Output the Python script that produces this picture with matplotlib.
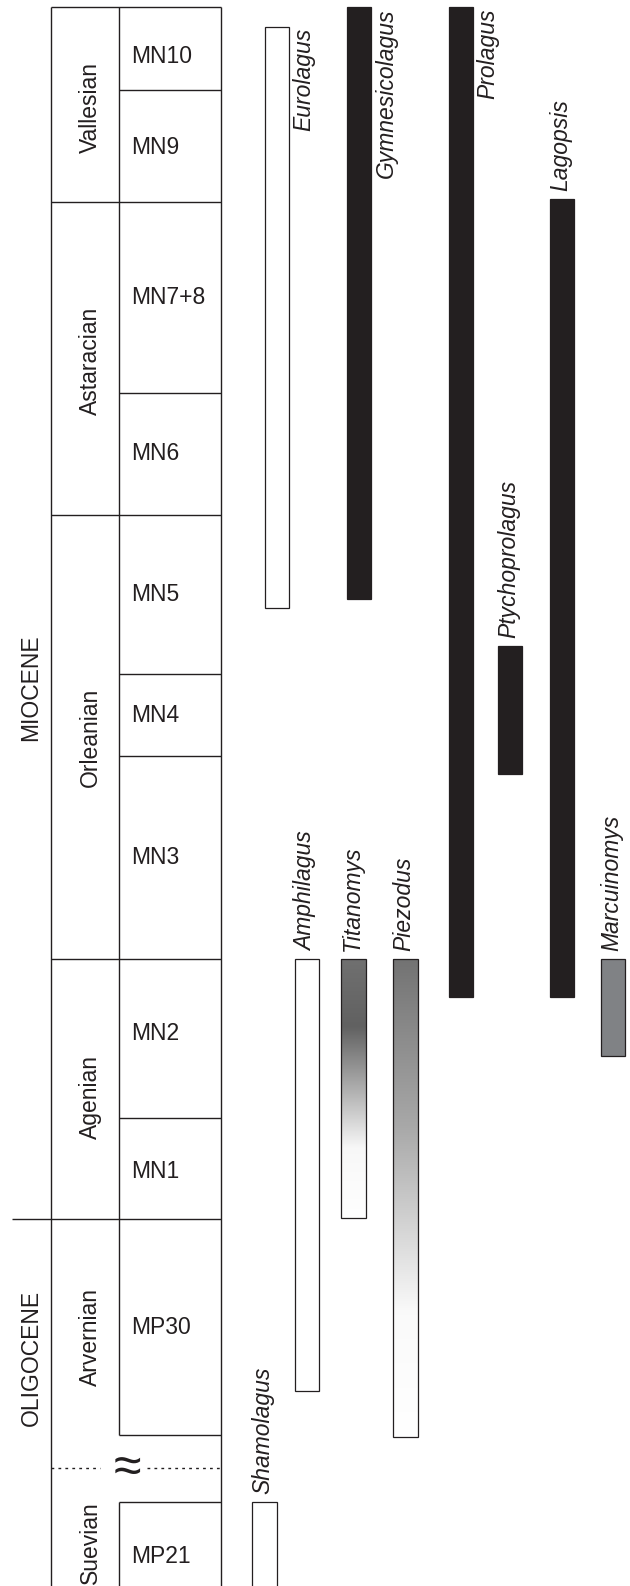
import numpy as np
import matplotlib.pyplot as plt
from matplotlib.patches import Rectangle

# vertical scale: position down the chart (0 = top, larger = older)
zones = ['MN10', 'MN9', 'MN7+8', 'MN6', 'MN5', 'MN4', 'MN3', 'MN2', 'MN1', 'MP30', 'MP21']
zone_top = [7.3, 89.5, 201.7, 392.7, 515, 674, 756, 959, 1117.7, 1219.3, 1501.7]
zone_bot = [89.5, 201.7, 392.7, 515, 674, 756, 959, 1117.7, 1219.3, 1435, 1612]

stages = ['Vallesian', 'Astaracian', 'Orleanian', 'Agenian', 'Arvernian', 'Suevian']
stage_top = [7.3, 201.7, 515, 959, 1219.3, 1467.7]
stage_bot = [201.7, 515, 959, 1219.3, 1467.7, 1612]

epochs = ['MIOCENE', 'OLIGOCENE']
epoch_boundary = 1219.3
hiatus = 1467.7

# taxon ranges (first = youngest end at top, last = oldest end)
taxa = ['Eurolagus', 'Gymnesicolagus', 'Prolagus', 'Lagopsis', 'Ptychoprolagus',
        'Amphilagus', 'Titanomys', 'Piezodus', 'Marcuinomys', 'Shamolagus']
range_top = [26.7, 7.3, 7.3, 199.3, 646, 959, 959, 959, 959, 1502]
range_bot = [608.3, 599.3, 997, 996.7, 774, 1391, 1217.7, 1436.7, 1056, 1612]
fill_kind = ['white', 'black', 'black', 'black', 'black',
             'white', 'fade1', 'fade2', 'grey', 'white']

# grey fades along the bar: (fraction of length, grey level)
fade1 = [(0.0, 0.44), (0.26, 0.38), (0.73, 0.97), (1.0, 1.0)]
fade2 = [(0.0, 0.45), (0.35, 0.66), (0.57, 0.84), (0.74, 0.98), (1.0, 1.0)]

# ---- layout (pixels of a 630 x 1586 canvas) ----
col_x = [276.9, 359.2, 460.8, 561.8, 510.2, 307, 353.5, 405.3, 612.9, 264.5]
label_side = ['right', 'right', 'right', 'top', 'top', 'top', 'top', 'top', 'top', 'top']
bar_w = 24.5
x_left, x_mid, x_right = 50.7, 119, 221
epoch_y = [688, 1358]
stage_nudge = {'Vallesian': 3, 'Astaracian': 3, 'Agenian': 8, 'Arvernian': -7, 'Suevian': 3}
zone_nudge = {'MN10': 8, 'MN9': 2, 'MN2': -5, 'MN1': 3}

ink = '#231f20'
fam = ['Liberation Sans', 'DejaVu Sans']
fs = 16.5
lw = 1.0

fig = plt.figure(figsize=(6.3, 15.86), dpi=100)
ax = fig.add_axes([0, 0, 1, 1])


def hline(y, x0, x1, **kw):
    ax.plot([x0, x1], [y, y], color=ink, lw=lw, solid_capstyle='butt', **kw)


def vline(x, y0, y1):
    ax.plot([x, x], [y0, y1], color=ink, lw=lw, solid_capstyle='butt')


# table frame
vline(x_left, stage_top[0], stage_bot[-1])
vline(x_right, stage_top[0], stage_bot[-1])
vline(x_mid, zone_top[0], zone_bot[-2])
vline(x_mid, zone_top[-1], zone_bot[-1])
for y in stage_top:
    if y != hiatus:
        hline(y, x_left, x_right)
for y in zone_top[1:] + [zone_bot[-2]]:
    if y not in stage_top:
        hline(y, x_mid, x_right)
hline(epoch_boundary, 11.7, x_left)

# hiatus: dotted line with a wavy sign
hline(hiatus, x_left, 100, linestyle=(0, (2, 3)))
hline(hiatus, 147, x_right, linestyle=(0, (2, 3)))
ax.text(127, hiatus + 1, '\u2248', fontsize=36, family=fam, color=ink,
        ha='center', va='center')

# zone labels
for z, t, b in zip(zones, zone_top, zone_bot):
    y = (t + min(b, 1586 + 26)) / 2 + zone_nudge.get(z, 0)
    ax.text(131.5, y, z, fontsize=fs, family=fam, color=ink, ha='left', va='center')

# stage labels
for s, t, b in zip(stages, stage_top, stage_bot):
    y = (t + b) / 2 + stage_nudge.get(s, 0)
    ax.text(96.5, y, s, fontsize=fs, family=fam, color=ink, rotation=90,
            rotation_mode='anchor', ha='center', va='baseline')

# epoch labels
for e, y in zip(epochs, epoch_y):
    ax.text(37.5, y, e, fontsize=fs, family=fam, color=ink, rotation=90,
            rotation_mode='anchor', ha='center', va='baseline')

# taxon ranges
for name, x, t, b, kind, side in zip(taxa, col_x, range_top, range_bot, fill_kind, label_side):
    x0, x1 = x - bar_w / 2, x + bar_w / 2
    if kind in ('fade1', 'fade2'):
        stops = fade1 if kind == 'fade1' else fade2
        f = np.linspace(0, 1, 400)
        g = np.interp(f, [s[0] for s in stops], [s[1] for s in stops])
        img = np.repeat(g[:, None, None], 3, axis=2)
        ax.imshow(img, extent=(x0, x1, b, t), origin='upper', aspect='auto',
                  interpolation='bilinear', zorder=2)
        face = 'none'
    else:
        face = {'white': 'white', 'black': ink, 'grey': '#808285'}[kind]
    ax.add_patch(Rectangle((x0, t), bar_w, b - t, facecolor=face, edgecolor=ink,
                           lw=0.9, zorder=3))
    if side == 'right':
        ax.text(x1 + 21, t + 1.5, name, fontsize=fs, family=fam, style='italic',
                color=ink, rotation=90, rotation_mode='anchor', ha='right', va='baseline')
    else:
        ax.text(x0 + 17.5, t - 8, name, fontsize=fs, family=fam, style='italic',
                color=ink, rotation=90, rotation_mode='anchor', ha='left', va='baseline')

ax.set_xlim(0, 630)
ax.set_ylim(1586, 0)
ax.axis('off')
fig.savefig('out.png', dpi=100, facecolor='white')
